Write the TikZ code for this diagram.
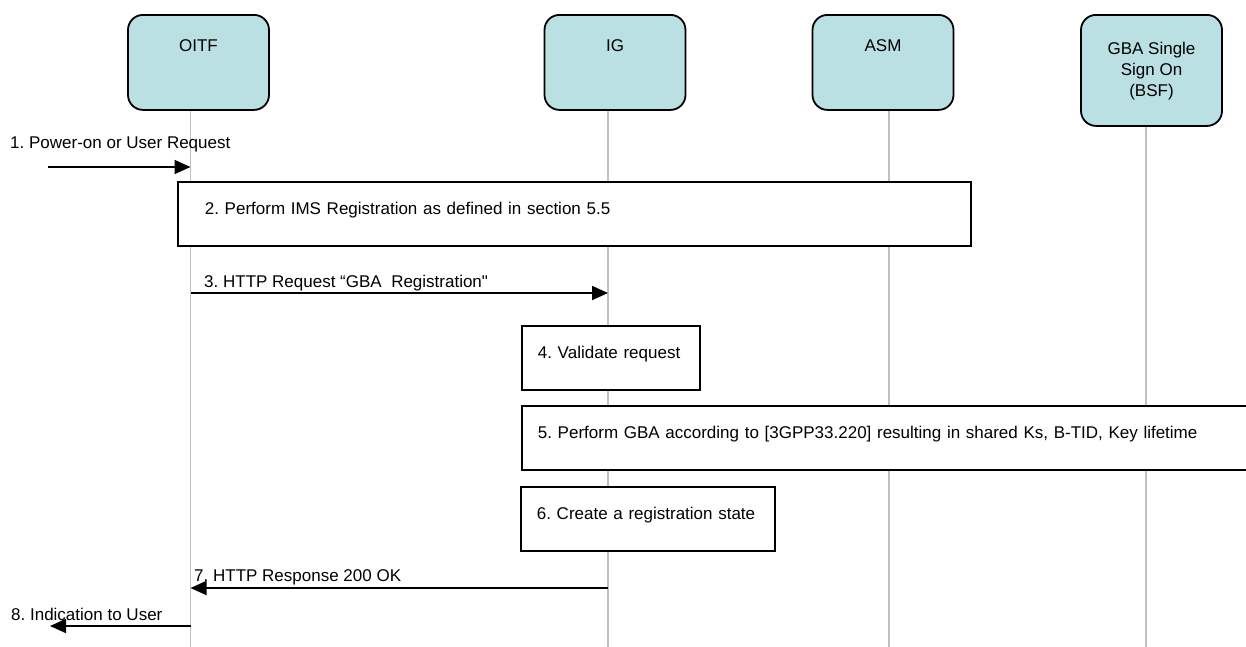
\documentclass[tikz,border=0pt]{standalone}
\usepackage{fontspec}
\setmainfont{Liberation Sans}
\usetikzlibrary{arrows.meta,positioning}
\definecolor{partfill}{HTML}{BBE0E3}
\definecolor{lifegray}{HTML}{C0C0C0}
\frenchspacing
\tikzset
{
    participant/.style = {rectangle, rounded corners=15pt, draw=black, line width=1.8pt, fill=partfill, align=center, minimum width=141pt, inner sep=0pt, anchor=north, text height=37pt, text depth=58pt},
    actionbox/.style = {rectangle, draw=black, line width=1.8pt, fill=white, align=left, anchor=north west, minimum height=64pt, inner xsep=16pt, inner ysep=0pt, text height=12pt, text depth=10pt},
    msglabel/.style = {anchor=base west, inner sep=0pt},
    message/.style = {line width=1.8pt, -{Triangle[length=16pt, width=14pt]}},
    lifeline/.style = {draw=lifegray, line width=1.2pt}
}

\begin{document}
\begin{tikzpicture}[x=1pt, y=-1pt, font=\fontsize{17pt}{21pt}\selectfont]
	\useasboundingbox (0,0) rectangle (1246,646);

	\node[participant] (oitf) at (198.5,14) {OITF};
	\node[participant] (ig) at (615,14) {IG};
	\node[participant] (asm) at (883,14) {ASM};
	\node[participant, text height=82pt, text depth=29pt] (bsf) at (1151.5,14) {GBA Single\\Sign On\\(BSF)};

	\coordinate (oitf-x) at (190.5,650);
	\coordinate (ig-x) at (608,650);
	\coordinate (asm-x) at (889,650);
	\coordinate (bsf-x) at (1146,650);

	\draw[lifeline] (oitf.south -| oitf-x) -- (oitf-x);
	\draw[lifeline] (ig.south -| ig-x) -- (ig-x);
	\draw[lifeline] (asm.south -| asm-x) -- (asm-x);
	\draw[lifeline] (bsf.south -| bsf-x) -- (bsf-x);

	\node[msglabel] (poweron) at (10,148) {1. Power-on or User Request};
	\coordinate (user-in) at (48,167);
	\draw[message] (user-in) -- (user-in -| oitf-x);

	\node[actionbox, inner xsep=27pt, text width=739pt] (imsreg) at (177,181) {2. Perform IMS Registration as defined in section 5.5};

	\node[msglabel] (httpreq) at (204,287) {3. HTTP Request “GBA\ \ Registration\textquotedbl};
	\coordinate (req-y) at (0,293);
	\draw[message] (oitf-x |- req-y) -- (ig-x |- req-y);

	\node[actionbox, text width=146pt] (validate) at (521,325) {4. Validate request};
	\node[actionbox, text width=709pt] (gba) at (521,405) {5. Perform GBA according to [3GPP33.220] resulting in shared Ks, B-TID, Key lifetime};
	\node[actionbox, text width=222pt] (regstate) at (520,486) {6. Create a registration state};

	\node[msglabel] (httpresp) at (194,581.7) {7. HTTP Response 200 OK};
	\coordinate (resp-y) at (0,588);
	\draw[message] (ig-x |- resp-y) -- (oitf-x |- resp-y);

	\node[msglabel] (indication) at (11,620) {8. Indication to User};
	\coordinate (user-out) at (50,626);
	\draw[message] (user-out -| oitf-x) -- (user-out);
\end{tikzpicture}
\end{document}
